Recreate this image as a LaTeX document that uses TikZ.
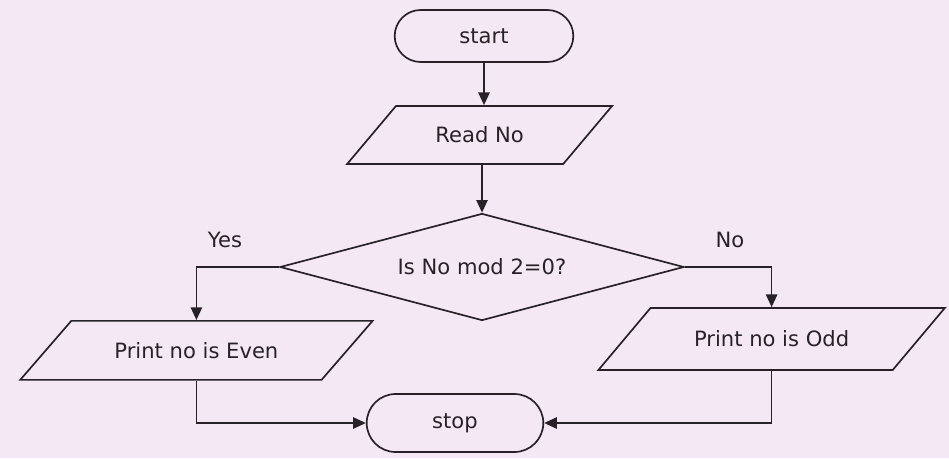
\documentclass[tikz,border=0pt]{standalone}
\usepackage{fontspec}
\setmainfont{DejaVu Sans}
\usetikzlibrary{shapes.geometric,shapes.misc,arrows.meta}
\definecolor{paper}{RGB}{245,232,245}
\definecolor{ink}{RGB}{38,34,40}
\tikzset{
  terminal/.style={rounded rectangle, draw=ink, line width=1.2pt, fill=paper},
  io/.style={trapezium, trapezium stretches=true, draw=ink, line width=1.2pt, fill=paper},
  decision/.style={diamond, draw=ink, line width=1.2pt, fill=paper, inner sep=0pt, shape aspect=3.8},
  flow/.style={draw=ink, line width=1.2pt, -{Triangle[length=9pt,width=8pt]}},
  every node/.style={font=\fontsize{15}{18}\selectfont, text=ink}
}
\begin{document}
\begin{tikzpicture}
            \fill[paper] (0,0) rectangle (23.725,11.45);
            \node[terminal, minimum width=4.7cm, minimum height=1.3cm] (start) at (12.1,10.55) {start};
            \node[io, trapezium left angle=42, trapezium right angle=138, minimum width=6.625cm, minimum height=1.45cm] (readno) at (11.99,8.075) {Read No};
            \node[decision, minimum width=10.1cm, minimum height=2.675cm] (decide) at (12.05,4.775) {Is No mod 2=0?};
            \node[io, trapezium left angle=36, trapezium right angle=144, minimum width=8.825cm, minimum height=1.475cm] (even) at (4.91,2.69) {Print no is Even};
            \node[io, trapezium left angle=36, trapezium right angle=144, minimum width=8.675cm, minimum height=1.55cm] (odd) at (19.29,2.975) {Print no is Odd};
            \node[terminal, minimum width=4.65cm, minimum height=1.45cm] (stop) at (11.375,0.875) {stop};
            \node (yes) at (5.625,5.45) {Yes};
            \node (no) at (18.25,5.45) {No};
            \draw[flow] (start.south) -- (start.south |- readno.north);
            \draw[flow] (decide.north |- readno.south) -- (decide.north);
            \draw[flow] (decide.west) -| (even.north);
            \draw[flow] (decide.east) -| (odd.north);
            \draw[flow] (even.south) |- (stop.west);
            \draw[flow] (odd.south) |- (stop.east);
\end{tikzpicture}
\end{document}
